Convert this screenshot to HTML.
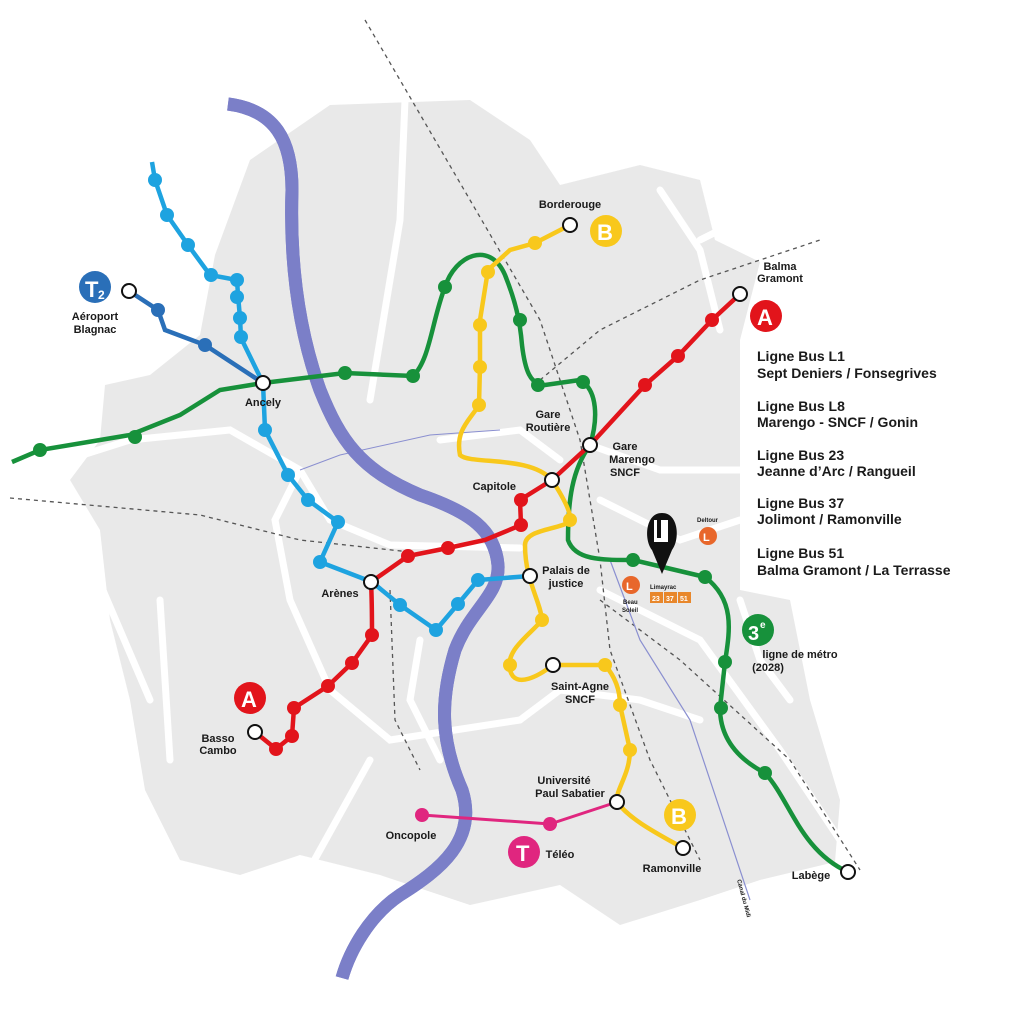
<!DOCTYPE html>
<html><head><meta charset="utf-8"><style>
html,body{margin:0;padding:0;background:#fff;}
svg{display:block}
text{font-family:"Liberation Sans",sans-serif;font-weight:bold;fill:#1a1a1a}
</style></head><body>
<svg width="1024" height="1024" viewBox="0 0 1024 1024" xmlns="http://www.w3.org/2000/svg">
<path d="M105,385 L150,375 L200,335 L215,255 L250,160 L330,105 L470,100 L530,140 L560,185 L640,165 L700,180 L715,240 L760,262 L740,340 L740,590 L790,600 L810,700 L840,800 L835,862 L760,880 L700,900 L620,925 L560,885 L470,905 L380,875 L300,855 L240,875 L180,860 L145,790 L130,700 L110,620 L100,530 L70,480 L100,440 Z" fill="#e9e9e9"/>
<g stroke="#fff" stroke-width="7" fill="none" stroke-linecap="round">
<path d="M10,478 L130,440 L230,430 L300,470 L330,520 L390,545 L520,548"/>
<path d="M300,470 L275,520 L290,600 L330,690 L390,740 L520,720"/>
<path d="M405,100 L400,220 L370,400"/>
<path d="M420,640 L410,700 L440,760"/>
<path d="M520,720 L560,690 L640,700 L700,720"/>
<path d="M590,445 L660,470 L740,470"/>
<path d="M600,500 L680,540 L740,520"/>
<path d="M600,590 L700,640 L780,750 L840,840"/>
<path d="M660,190 L700,250 L720,330"/>
<path d="M700,240 L780,200"/>
<path d="M740,600 L760,660 L790,700"/>
<path d="M160,600 L170,760"/>
<path d="M10,560 L90,560 L150,700"/>
<path d="M270,940 L320,850 L370,760"/>
<path d="M440,440 L520,430 L560,460"/>
</g>
<g stroke="#555" stroke-width="1.3" fill="none" stroke-dasharray="4,4">
<path d="M365,20 L470,200 L540,320 L580,440 L600,560 L610,650 L650,760 L700,860"/>
<path d="M10,498 L200,515 L300,540 L410,552"/>
<path d="M540,380 L600,330 L700,280 L820,240"/>
<path d="M600,600 L680,660 L790,760 L860,870"/>
<path d="M390,590 L395,720 L420,770"/>
</g>
<path d="M610,560 L640,640 L690,720 L750,900" stroke="#8a8fd0" stroke-width="1.2" fill="none"/>
<path d="M300,470 L340,455 L430,435 L500,430" stroke="#8a8fd0" stroke-width="1" fill="none"/>
<path d="M228,104 C275,110 292,140 292,190 C290,250 295,320 320,390 C340,440 360,470 420,495 C470,512 495,530 498,565 C500,595 470,610 455,650 C440,700 440,740 462,790 C478,840 440,870 400,895 C370,915 350,950 342,978" stroke="#7b7fc8" stroke-width="13" fill="none"/>
<path d="M228,104 C275,110 292,140 292,190 C290,250 295,320 320,390 C340,440 360,470 420,495 C470,512 495,530 498,565 C500,595 470,610 455,650 C440,700 440,740 462,790 C478,840 440,870 400,895 C370,915 350,950 342,978" stroke="#7b7fc8" stroke-width="13" fill="none"/>
<path d="M12,462 L40,450 L130,435 L180,415 L220,390 L263,383 L345,373 L413,376 C430,360 432,320 445,287 C455,255 490,240 505,275 C515,300 520,320 522,345 C525,370 530,385 545,385 L580,380 C598,390 598,420 590,445 C572,470 568,500 568,540 C575,560 600,560 633,560 L667,568 L705,577 C735,600 730,630 725,662 L720,708 C720,740 740,760 765,773 C790,800 800,850 848,872" stroke="#17913b" stroke-width="4.5" fill="none"/>
<g fill="#17913b">
<circle cx="40" cy="450" r="7"/><circle cx="135" cy="437" r="7"/><circle cx="345" cy="373" r="7"/><circle cx="413" cy="376" r="7"/><circle cx="445" cy="287" r="7"/><circle cx="520" cy="320" r="7"/><circle cx="538" cy="385" r="7"/><circle cx="583" cy="382" r="7"/><circle cx="633" cy="560" r="7"/><circle cx="705" cy="577" r="7"/><circle cx="725" cy="662" r="7"/><circle cx="721" cy="708" r="7"/><circle cx="765" cy="773" r="7"/>
</g>
<path d="M570,225 L535,243 L510,250 L488,270 L480,320 L480,365 L479,405 C470,420 455,430 460,455 C470,465 530,455 552,480 C565,500 572,515 570,522 C555,530 525,530 525,545 C525,580 540,600 542,620 C530,635 505,650 510,670 C515,690 540,675 553,665 L605,665 C618,680 620,695 620,705 L630,750 C630,775 615,790 617,802 C630,820 660,835 683,848" stroke="#f8c81c" stroke-width="4.5" fill="none"/>
<g fill="#f8c81c">
<circle cx="535" cy="243" r="7"/><circle cx="488" cy="272" r="7"/><circle cx="480" cy="325" r="7"/><circle cx="480" cy="367" r="7"/><circle cx="479" cy="405" r="7"/><circle cx="570" cy="520" r="7"/><circle cx="542" cy="620" r="7"/><circle cx="510" cy="665" r="7"/><circle cx="605" cy="665" r="7"/><circle cx="620" cy="705" r="7"/><circle cx="630" cy="750" r="7"/>
</g>
<path d="M740,294 L712,320 L678,356 L645,385 L590,445 L552,480 L520,500 L521,525 L485,540 L448,548 L408,556 L371,582 C372,600 372,620 372,635 L352,663 L328,686 L294,708 L292,736 L276,749 L255,732" stroke="#e2141b" stroke-width="4.5" fill="none"/>
<g fill="#e2141b">
<circle cx="712" cy="320" r="7"/><circle cx="678" cy="356" r="7"/><circle cx="645" cy="385" r="7"/><circle cx="521" cy="500" r="7"/><circle cx="521" cy="525" r="7"/><circle cx="448" cy="548" r="7"/><circle cx="408" cy="556" r="7"/><circle cx="372" cy="635" r="7"/><circle cx="352" cy="663" r="7"/><circle cx="328" cy="686" r="7"/><circle cx="294" cy="708" r="7"/><circle cx="292" cy="736" r="7"/><circle cx="276" cy="749" r="7"/>
</g>
<path d="M152,162 L155,180 L167,215 L188,245 L210,275 L237,280 L238,295 L240,318 L241,338 L263,383 L265,430 L288,475 L308,500 L338,522 L320,562 L372,582 L400,605 L436,630 L458,604 L478,580 L530,576" stroke="#1ea3e0" stroke-width="4.5" fill="none"/>
<g fill="#1ea3e0">
<circle cx="155" cy="180" r="7"/><circle cx="167" cy="215" r="7"/><circle cx="188" cy="245" r="7"/><circle cx="211" cy="275" r="7"/><circle cx="237" cy="280" r="7"/><circle cx="237" cy="297" r="7"/><circle cx="240" cy="318" r="7"/><circle cx="241" cy="337" r="7"/><circle cx="265" cy="430" r="7"/><circle cx="288" cy="475" r="7"/><circle cx="308" cy="500" r="7"/><circle cx="338" cy="522" r="7"/><circle cx="320" cy="562" r="7"/><circle cx="400" cy="605" r="7"/><circle cx="436" cy="630" r="7"/><circle cx="458" cy="604" r="7"/><circle cx="478" cy="580" r="7"/>
</g>
<path d="M129,291 L158,310 L165,330 L205,345 L263,383" stroke="#2a6fb8" stroke-width="4.5" fill="none"/>
<g fill="#2a6fb8"><circle cx="158" cy="310" r="7"/><circle cx="205" cy="345" r="7"/></g>
<path d="M422,815 L550,824 L617,802" stroke="#e0267f" stroke-width="3" fill="none"/>
<g fill="#e0267f"><circle cx="422" cy="815" r="7"/><circle cx="550" cy="824" r="7"/></g>
<g fill="#fff" stroke="#111" stroke-width="2">
<circle cx="129" cy="291" r="7"/><circle cx="263" cy="383" r="7"/><circle cx="570" cy="225" r="7"/><circle cx="740" cy="294" r="7"/><circle cx="590" cy="445" r="7"/><circle cx="552" cy="480" r="7"/><circle cx="371" cy="582" r="7"/><circle cx="530" cy="576" r="7"/><circle cx="553" cy="665" r="7"/><circle cx="255" cy="732" r="7"/><circle cx="617" cy="802" r="7"/><circle cx="683" cy="848" r="7"/><circle cx="848" cy="872" r="7"/>
</g>
<circle cx="95" cy="287" r="16" fill="#2a6fb8"/><text x="85" y="297" font-size="22" style="fill:#fff">T</text><text x="98" y="299" font-size="12" style="fill:#fff">2</text>
<circle cx="606" cy="231" r="16" fill="#f8c81c"/><text x="597" y="240" font-size="22" style="fill:#fff">B</text>
<circle cx="766" cy="316" r="16" fill="#e2141b"/><text x="757" y="325" font-size="22" style="fill:#fff">A</text>
<circle cx="250" cy="698" r="16" fill="#e2141b"/><text x="241" y="707" font-size="22" style="fill:#fff">A</text>
<circle cx="680" cy="815" r="16" fill="#f8c81c"/><text x="671" y="824" font-size="22" style="fill:#fff">B</text>
<circle cx="524" cy="852" r="16" fill="#e0267f"/><text x="516" y="861" font-size="22" style="fill:#fff">T</text>
<circle cx="758" cy="630" r="16" fill="#17913b"/><text x="748" y="640" font-size="20" style="fill:#fff">3</text><text x="760" y="628" font-size="10" style="fill:#fff">e</text>
<circle cx="708" cy="536" r="9" fill="#e8672b"/><text x="703" y="541" font-size="11" style="fill:#fff">L</text>
<circle cx="631" cy="585" r="9" fill="#e8672b"/><text x="626" y="590" font-size="11" style="fill:#fff">L</text>
<path d="M662,513 C645,513 644,540 652,550 L662,574 L672,550 C680,540 679,513 662,513 Z" fill="#111"/>
<rect x="654" y="520" width="14" height="22" fill="#fff"/><rect x="657" y="520" width="4" height="18" fill="#111"/>
<rect x="650" y="592" width="13" height="11" fill="#e8872b"/><rect x="664" y="592" width="13" height="11" fill="#e8872b"/><rect x="678" y="592" width="13" height="11" fill="#e8872b"/>
<g font-size="7"><text x="652" y="601" style="fill:#fff">23</text><text x="666" y="601" style="fill:#fff">37</text><text x="680" y="601" style="fill:#fff">51</text></g>
<g font-size="11" text-anchor="middle">
<text x="570" y="208">Borderouge</text>
<text x="780" y="270">Balma</text><text x="780" y="282">Gramont</text>
<text x="95" y="320">Aéroport</text><text x="95" y="333">Blagnac</text>
<text x="263" y="406">Ancely</text>
<text x="548" y="418">Gare</text><text x="548" y="431">Routière</text>
<text x="625" y="450">Gare</text><text x="632" y="463">Marengo</text><text x="625" y="476">SNCF</text>
<text x="516" y="490" text-anchor="end">Capitole</text>
<text x="566" y="574">Palais de</text><text x="566" y="587">justice</text>
<text x="340" y="597">Arènes</text>
<text x="580" y="690">Saint-Agne</text><text x="580" y="703">SNCF</text>
<text x="218" y="742">Basso</text><text x="218" y="754">Cambo</text>
<text x="564" y="784">Université</text><text x="570" y="797">Paul Sabatier</text>
<text x="411" y="839">Oncopole</text>
<text x="560" y="858">Téléo</text>
<text x="672" y="872">Ramonville</text>
<text x="811" y="879">Labège</text>
<text x="800" y="658">ligne de métro</text><text x="768" y="671">(2028)</text>
</g>
<g font-size="6"><text x="697" y="522">Deltour</text><text x="650" y="589">Limayrac</text><text x="623" y="604">Beau</text><text x="622" y="612">Soleil</text></g>
<text x="737" y="880" font-size="6" transform="rotate(75 737 880)">Canal du Midi</text>
<g font-size="14">
<text x="757" y="361">Ligne Bus L1</text><text x="757" y="378">Sept Deniers  / Fonsegrives</text>
<text x="757" y="411">Ligne Bus L8</text><text x="757" y="427">Marengo - SNCF / Gonin</text>
<text x="757" y="460">Ligne Bus 23</text><text x="757" y="476">Jeanne d’Arc / Rangueil</text>
<text x="757" y="508">Ligne Bus 37</text><text x="757" y="524">Jolimont / Ramonville</text>
<text x="757" y="558">Ligne Bus 51</text><text x="757" y="575">Balma  Gramont / La Terrasse</text>
</g>
</svg>
</body></html>
